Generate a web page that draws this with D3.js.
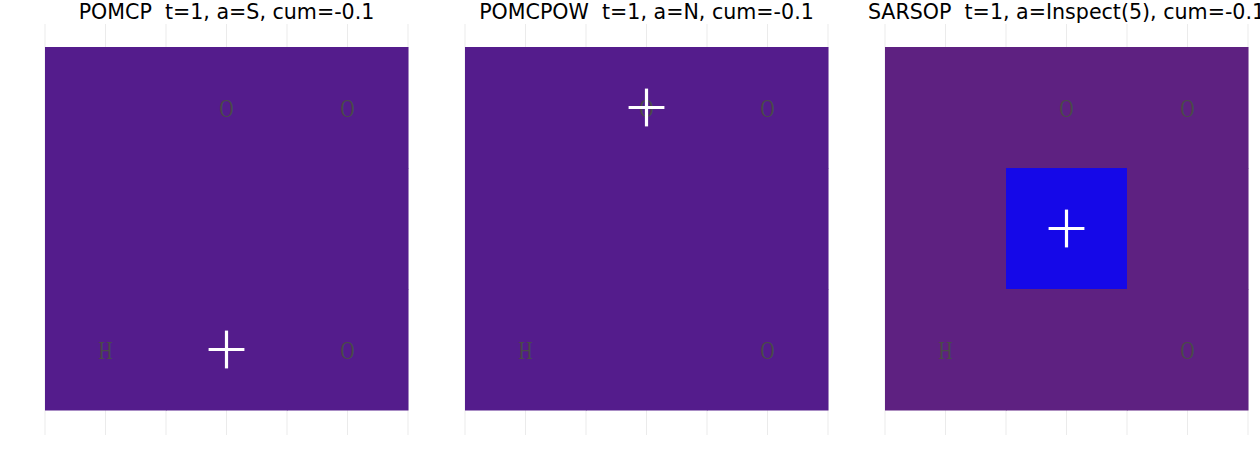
<!DOCTYPE html>
<html>
<head>
<meta charset="utf-8">
<script src="https://cdn.jsdelivr.net/npm/d3@7"></script>
<style>
  html, body { margin: 0; padding: 0; background: #ffffff; }
  svg { display: block; }
</style>
</head>
<body>
<svg id="chart" width="1260" height="460"></svg>
<script>
// ---- data ----
const panelTitles = [
  "POMCP  t=1, a=S, cum=-0.1",
  "POMCPOW  t=1, a=N, cum=-0.1",
  "SARSOP  t=1, a=Inspect(5), cum=-0.1"
];
// belief per cell, rows listed top (y=3) to bottom (y=1), columns x=1..3
const beliefPOMCP   = [[0.1111, 0.1111, 0.1111], [0.1111, 0.1111, 0.1111], [0.1111, 0.1111, 0.1111]];
const beliefPOMCPOW = [[0.1111, 0.1111, 0.1111], [0.1111, 0.1111, 0.1111], [0.1111, 0.1111, 0.1111]];
const beliefSARSOP  = [[0.0625, 0.0625, 0.0625], [0.0625, 0.5, 0.0625], [0.0625, 0.0625, 0.0625]];
const beliefs = [beliefPOMCP, beliefPOMCPOW, beliefSARSOP];
// map markers (x, y, label)
const markerX = [2, 3, 1, 3];
const markerY = [3, 3, 1, 1];
const markerLabel = ["O", "O", "H", "O"];
// agent position per panel
const agentX = [2, 2, 2];
const agentY = [1, 3, 2];
const gridTicks = [0.5, 1, 1.5, 2, 2.5, 3, 3.5];

// ---- layout ----
const svg = d3.select("#chart");
const panelLeft = [45, 465, 885];
const panelW = 363;
const plotTop = 47, plotBottom = 410;

const color = d3.scaleLinear()
  .domain([0.0625, 0.1111, 0.5])
  .range(["#5e2181", "#541c8c", "#1508e8"]);

beliefs.forEach((belief, p) => {
  const x = d3.scaleLinear().domain([0.5, 3.5]).range([panelLeft[p], panelLeft[p] + panelW]);
  const y = d3.scaleLinear().domain([0.5, 3.5]).range([plotBottom, plotTop]);
  const g = svg.append("g");

  // vertical grid lines
  g.selectAll("line.grid").data(gridTicks).join("line")
    .attr("class", "grid")
    .attr("x1", d => x(d)).attr("x2", d => x(d))
    .attr("y1", 24).attr("y2", 435)
    .attr("stroke", "#ebebeb").attr("stroke-width", 1);

  // cells
  const cells = [];
  belief.forEach((row, r) => row.forEach((v, c) => cells.push({ cx: c + 1, cy: 3 - r, v })));
  g.selectAll("rect.cell").data(cells).join("rect")
    .attr("class", "cell")
    .attr("x", d => x(d.cx - 0.5))
    .attr("y", d => y(d.cy + 0.5))
    .attr("width", d => x(d.cx + 0.5) - x(d.cx - 0.5) + 0.5)
    .attr("height", d => y(d.cy - 0.5) - y(d.cy + 0.5) + 0.5)
    .attr("fill", d => color(d.v));

  // markers (narrow serif glyphs)
  g.selectAll("text.mark").data(markerLabel.map((l, i) => ({ l, mx: markerX[i], my: markerY[i] }))).join("text")
    .attr("class", "mark")
    .attr("transform", d => `translate(${x(d.mx)},${y(d.my) + 1}) scale(0.75,1)`)
    .attr("text-anchor", "middle")
    .attr("dominant-baseline", "central")
    .attr("font-family", "Liberation Serif, serif")
    .attr("font-size", 26)
    .attr("fill", "#4a4a4a")
    .text(d => d.l);

  // agent cross
  const ax = x(agentX[p]), ay = y(agentY[p]);
  const s = x(0.5 + 0.148) - x(0.5);
  g.append("line").attr("x1", ax - s).attr("x2", ax + s).attr("y1", ay).attr("y2", ay)
    .attr("stroke", "#ffffff").attr("stroke-width", 3.2);
  g.append("line").attr("x1", ax).attr("x2", ax).attr("y1", ay - s - 1).attr("y2", ay + s + 1)
    .attr("stroke", "#ffffff").attr("stroke-width", 3.2);

  // title
  svg.append("text")
    .attr("x", x(2)).attr("y", 19)
    .attr("text-anchor", "middle")
    .attr("font-family", "DejaVu Sans, sans-serif")
    .attr("font-size", 20.6)
    .attr("fill", "#000000")
    .style("white-space", "pre")
    .text(panelTitles[p]);
});
</script>
</body>
</html>
